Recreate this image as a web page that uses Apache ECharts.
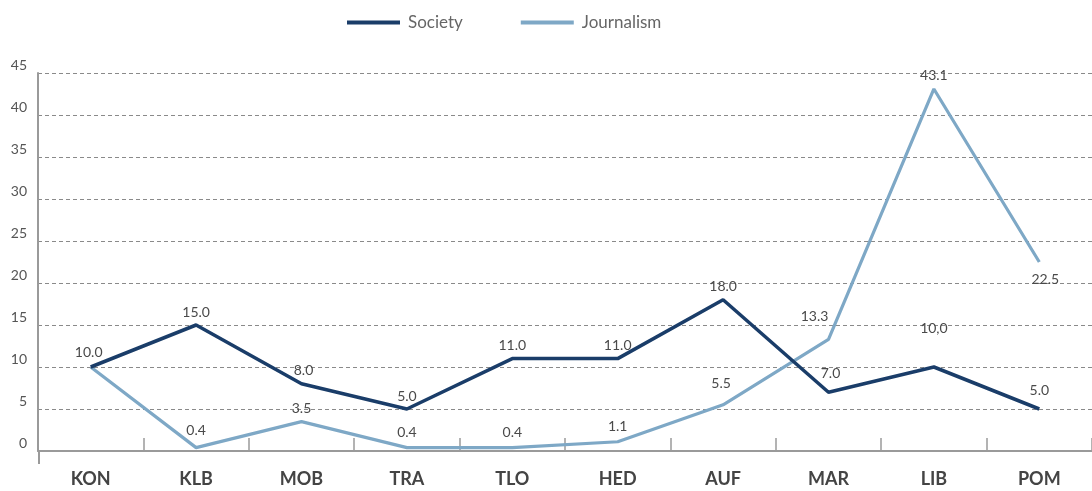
<!DOCTYPE html>
<html>
<head>
<meta charset="utf-8">
<script src="https://cdn.jsdelivr.net/npm/echarts@6/dist/echarts.min.js"></script>
<style>
  html, body { margin: 0; padding: 0; background: #ffffff; }
  #chart { width: 1092px; height: 491px; }
</style>
</head>
<body>
<div id="chart"></div>
<script>
// Categories along the x axis
const categories = ['KON', 'KLB', 'MOB', 'TRA', 'TLO', 'HED', 'AUF', 'MAR', 'LIB', 'POM'];

// Series values
const society = [10.0, 15.0, 8.0, 5.0, 11.0, 11.0, 18.0, 7.0, 10.0, 5.0];
const journalism = [10.0, 0.4, 3.5, 0.4, 0.4, 1.1, 5.5, 13.3, 43.1, 22.5];

// Label text as printed next to each point
const societyLabels = ['10.0', '15.0', '8.0', '5.0', '11.0', '11.0', '18.0', '7.0', '10,0', '5.0'];
const journalismLabels = ['', '0.4', '3.5', '0.4', '0.4', '1.1', '5.5', '13.3', '43.1', '22.5'];

// Y axis range
const yMin = 0, yMax = 45, yStep = 5;

// Label offsets [dx, dy] relative to the default "top" placement
const societyOffsets = [[-2, -2], [0, 0], [2, 0], [0, 0], [0, 0], [0, 0], [0, 0], [2, -6], [0, -26], [0, -6]];
const journalismOffsets = [[0, 0], [0, -4], [0, 0], [0, -2], [0, -2], [0, -2], [-2, -8], [-14, -10], [0, 0], [6, 30]];

const SOCIETY_COLOR = '#1a3d69';
const JOURNALISM_COLOR = '#7ea8c6';
const TEXT_FONT = 'Lato, "Open Sans", sans-serif';

function buildData(values, labels, offsets) {
  return values.map((v, i) => ({
    value: v,
    label: {
      show: labels[i] !== '',
      formatter: labels[i],
      offset: offsets[i]
    }
  }));
}

const pointLabel = {
  show: true,
  position: 'top',
  distance: 6,
  color: '#4a4a4a',
  fontSize: 14,
  fontFamily: TEXT_FONT
};

const chart = echarts.init(document.getElementById('chart'), null, { renderer: 'canvas' });

chart.setOption({
  animation: false,
  backgroundColor: '#ffffff',
  textStyle: { fontFamily: TEXT_FONT },
  legend: {
    top: 9,
    left: 342,
    itemWidth: 53,
    itemHeight: 4,
    itemGap: 58,
    icon: 'rect',
    textStyle: { color: '#666', fontSize: 17, fontFamily: TEXT_FONT, padding: [0, 0, 0, 3] },
    data: ['Society', 'Journalism']
  },
  grid: { left: 38, right: -4, top: 73, bottom: 40, containLabel: false },
  xAxis: {
    type: 'category',
    data: categories,
    boundaryGap: true,
    axisLine: { lineStyle: { color: '#9a9a9a', width: 2 } },
    axisTick: { show: true, inside: true, length: 13, lineStyle: { color: '#9a9a9a', width: 1.5 } },
    axisLabel: { color: '#444', fontSize: 18, fontWeight: 'bold', margin: 19, fontFamily: TEXT_FONT }
  },
  yAxis: {
    type: 'value',
    min: yMin,
    max: yMax,
    interval: yStep,
    axisLine: { show: true, lineStyle: { color: '#9a9a9a', width: 2 } },
    axisTick: { show: false },
    axisLabel: { color: '#555', fontSize: 14, margin: 11, verticalAlign: 'bottom', lineHeight: 16, fontFamily: TEXT_FONT },
    splitLine: { show: true, lineStyle: { color: '#8a8a8a', width: 1, type: [4, 3] } }
  },
  series: [
    {
      name: 'Society',
      type: 'line',
      data: buildData(society, societyLabels, societyOffsets),
      symbol: 'circle',
      symbolSize: 0,
      showSymbol: true,
      lineStyle: { color: SOCIETY_COLOR, width: 3.5 },
      itemStyle: { color: SOCIETY_COLOR },
      label: pointLabel,
      z: 3
    },
    {
      name: 'Journalism',
      type: 'line',
      data: buildData(journalism, journalismLabels, journalismOffsets),
      symbol: 'circle',
      symbolSize: 0,
      showSymbol: true,
      lineStyle: { color: JOURNALISM_COLOR, width: 3.2 },
      itemStyle: { color: JOURNALISM_COLOR },
      label: pointLabel,
      z: 2
    }
  ],
  graphic: [
    {
      // short extension of the value axis below the category axis
      type: 'line',
      shape: { x1: 39, y1: 451, x2: 39, y2: 464 },
      style: { stroke: '#9a9a9a', lineWidth: 2 }
    }
  ]
});
</script>
</body>
</html>
